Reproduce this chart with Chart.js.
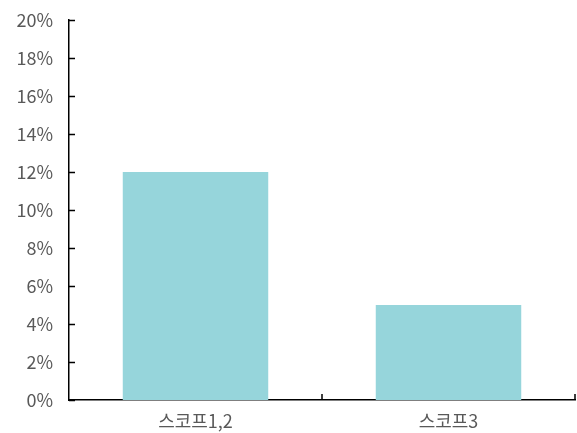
<!DOCTYPE html>
<html>
<head>
<meta charset="utf-8">
<script src="https://cdn.jsdelivr.net/npm/chart.js@4"></script>
<style>
  html, body { margin: 0; padding: 0; background: #fff; }
  #wrap { width: 577px; height: 433px; }
</style>
</head>
<body>
<div id="wrap"><canvas id="chart"></canvas></div>
<script>
// Emission share by scope (%)
const categories = ['스코프1,2', '스코프3'];
const shareValues = [12, 5];
const yTicks = [0, 2, 4, 6, 8, 10, 12, 14, 16, 18, 20];

const labelFont = { family: "'Noto Sans CJK KR', 'Noto Sans', sans-serif", size: 18, lineHeight: 1.1 };

// Short inward tick marks on both axes
const innerTicks = {
    id: 'innerTicks',
    afterDraw(chart) {
        const ctx = chart.ctx;
        const x = chart.scales.x;
        const y = chart.scales.y;
        ctx.save();
        ctx.strokeStyle = '#000';
        ctx.lineWidth = 1.5;
        ctx.beginPath();
        yTicks.forEach(v => {
            const py = Math.round(y.getPixelForValue(v)) + 0.5;
            ctx.moveTo(x.left, py);
            ctx.lineTo(x.left + 6, py);
        });
        // category boundaries on the x axis
        for (let i = 1; i <= categories.length; i++) {
            const px = x.getPixelForValue(i - 0.5);
            ctx.moveTo(px, y.bottom);
            ctx.lineTo(px, y.bottom - 6);
        }
        ctx.stroke();
        ctx.restore();
    }
};

new Chart(document.getElementById('chart'), {
    type: 'bar',
    data: {
        labels: categories,
        datasets: [{
            data: shareValues,
            backgroundColor: '#96d5db',
            categoryPercentage: 0.575,
            barPercentage: 1
        }]
    },
    options: {
        responsive: true,
        maintainAspectRatio: false,
        animation: false,
        layout: { padding: { top: 20, right: 2, left: 0, bottom: 0 } },
        plugins: { legend: { display: false }, tooltip: { enabled: false } },
        scales: {
            x: {
                afterFit: scale => {
                    scale.height = 33;
                    scale.paddingLeft = 0;
                    scale.paddingRight = 0;
                },
                grid: { display: false, drawTicks: false },
                border: { display: true, color: '#000', width: 1.5 },
                ticks: { color: '#595959', font: labelFont, padding: 11 }
            },
            y: {
                min: 0,
                max: 20,
                afterBuildTicks: scale => { scale.ticks = yTicks.map(v => ({ value: v })); },
                afterFit: scale => {
                    scale.width = 69;
                    scale.paddingTop = 0;
                    scale.paddingBottom = 0;
                },
                grid: { display: false, drawTicks: false },
                border: { display: true, color: '#000', width: 1.5 },
                ticks: {
                    color: '#595959',
                    font: labelFont,
                    padding: 16,
                    callback: v => v + '%'
                }
            }
        }
    },
    plugins: [innerTicks]
});
</script>
</body>
</html>
